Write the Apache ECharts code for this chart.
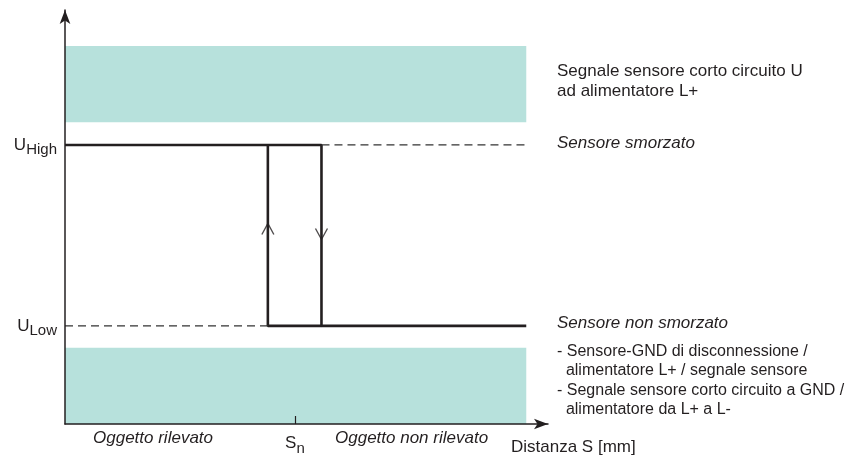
<!DOCTYPE html>
<html>
<head>
<meta charset="utf-8">
<script src="https://cdn.jsdelivr.net/npm/echarts@6/dist/echarts.min.js"></script>
<style>
  html, body { margin: 0; padding: 0; background: #fff; }
  #chart { width: 864px; height: 461px; }
</style>
</head>
<body>
<div id="chart"></div>
<script>
// switching levels and positions (arbitrary units)
var levelHigh = 67.4;
var levelLow = 23.7;
var switchOn = 42.0;     // rising edge
var switchOff = 53.1;    // falling edge
var snPos = 47.6;        // nominal switching distance Sn
var plotEnd = 95.5;

// shaded fault zones [from, to]
var bandUpper = [72.9, 91.3];
var bandLower = [0, 18.4];

// signal path
var solidPath = [[0, levelHigh], [switchOff, levelHigh], [switchOff, levelLow], [plotEnd, levelLow]];
var riseEdge = [[switchOff, levelLow], [switchOn, levelLow], [switchOn, levelHigh]];
var dashHigh = [[switchOff, levelHigh], [plotEnd, levelHigh]];
var dashLow = [[0, levelLow], [switchOn, levelLow]];
// direction chevrons on the edges
var arrowsUp = [[switchOn, 47.1]];
var arrowsDown = [[switchOff, 45.9]];

var ink = '#231f20';
var teal = '#b7e1dc';
var font = 'Liberation Sans, Arial, sans-serif';

var dom = document.getElementById('chart');
var myChart = echarts.init(dom);

var option = {
    animation: false,
    grid: { left: 65, top: 10, right: 316, bottom: 37 },
    xAxis: {
        type: 'value',
        min: 0,
        max: 100,
        z: 5,
        splitLine: { show: false },
        axisLine: { lineStyle: { color: ink, width: 1.5 }, symbol: ['none', 'arrow'], symbolSize: [8, 14] },
        axisTick: { show: true, inside: true, length: 8, customValues: [snPos], lineStyle: { color: ink, width: 1.2 } },
        axisLabel: {
            customValues: [snPos],
            margin: 6,
            formatter: function () { return '{s|S}{n|n}'; },
            rich: {
                s: { fontSize: 17, fontFamily: font, color: ink },
                n: { fontSize: 15, fontFamily: font, color: ink, padding: [11, 0, 0, 0] }
            }
        }
    },
    yAxis: {
        type: 'value',
        min: 0,
        max: 100,
        z: 5,
        splitLine: { show: false },
        axisLine: { lineStyle: { color: ink, width: 1.5 }, symbol: ['none', 'arrow'], symbolSize: [8, 14] },
        axisTick: { show: false },
        axisLabel: {
            customValues: [levelHigh, levelLow],
            margin: 8,
            formatter: function (v) {
                return v === levelHigh ? '{u|U}{s|High}' : '{u|U}{s|Low}';
            },
            rich: {
                u: { fontSize: 17, fontFamily: font, color: ink },
                s: { fontSize: 15, fontFamily: font, color: ink, padding: [10, 0, 0, 0] }
            }
        }
    },
    series: [
        {
            type: 'line',
            data: solidPath,
            symbol: 'none',
            lineStyle: { color: ink, width: 2.6 },
            markArea: {
                silent: true,
                itemStyle: { color: teal },
                data: [
                    [{ coord: [0, bandUpper[0]] }, { coord: [plotEnd, bandUpper[1]] }],
                    [{ coord: [0, bandLower[0]] }, { coord: [plotEnd, bandLower[1]] }]
                ]
            }
        },
        { type: 'line', data: riseEdge, symbol: 'none', lineStyle: { color: ink, width: 2.6 } },
        { type: 'line', data: dashHigh, symbol: 'none', lineStyle: { color: '#333', width: 1.3, type: [8, 5] } },
        { type: 'line', data: dashLow, symbol: 'none', lineStyle: { color: '#333', width: 1.3, type: [8, 5] } },
        {
            type: 'scatter',
            data: arrowsUp,
            symbol: 'path://M0,10 L6,0 L12,10',
            symbolSize: [12, 11],
            itemStyle: { color: 'none', borderColor: ink, borderWidth: 1.3 }
        },
        {
            type: 'scatter',
            data: arrowsDown,
            symbol: 'path://M0,0 L6,10 L12,0',
            symbolSize: [12, 11],
            itemStyle: { color: 'none', borderColor: ink, borderWidth: 1.3 }
        }
    ],
    graphic: [
        { type: 'text', left: 557, top: 61, style: { text: 'Segnale sensore corto circuito U\nad alimentatore L+', font: '17px ' + font, fill: ink, lineHeight: 20 } },
        { type: 'text', left: 557, top: 135, style: { text: 'Sensore smorzato', font: 'italic 17px ' + font, fill: ink } },
        { type: 'text', left: 557, top: 315, style: { text: 'Sensore non smorzato', font: 'italic 17px ' + font, fill: ink } },
        { type: 'text', left: 557, top: 342, style: { text: '- Sensore-GND di disconnessione /\n  alimentatore L+ / segnale sensore', font: '16px ' + font, fill: ink, lineHeight: 19 } },
        { type: 'text', left: 557, top: 381, style: { text: '- Segnale sensore corto circuito a GND /\n  alimentatore da L+ a L-', font: '16px ' + font, fill: ink, lineHeight: 19 } },
        { type: 'text', left: 93, top: 430, style: { text: 'Oggetto rilevato', font: 'italic 17px ' + font, fill: ink } },
        { type: 'text', left: 335, top: 430, style: { text: 'Oggetto non rilevato', font: 'italic 17px ' + font, fill: ink } },
        { type: 'text', left: 511, top: 439, style: { text: 'Distanza S [mm]', font: '17px ' + font, fill: ink } }
    ]
};

myChart.setOption(option);
</script>
</body>
</html>
